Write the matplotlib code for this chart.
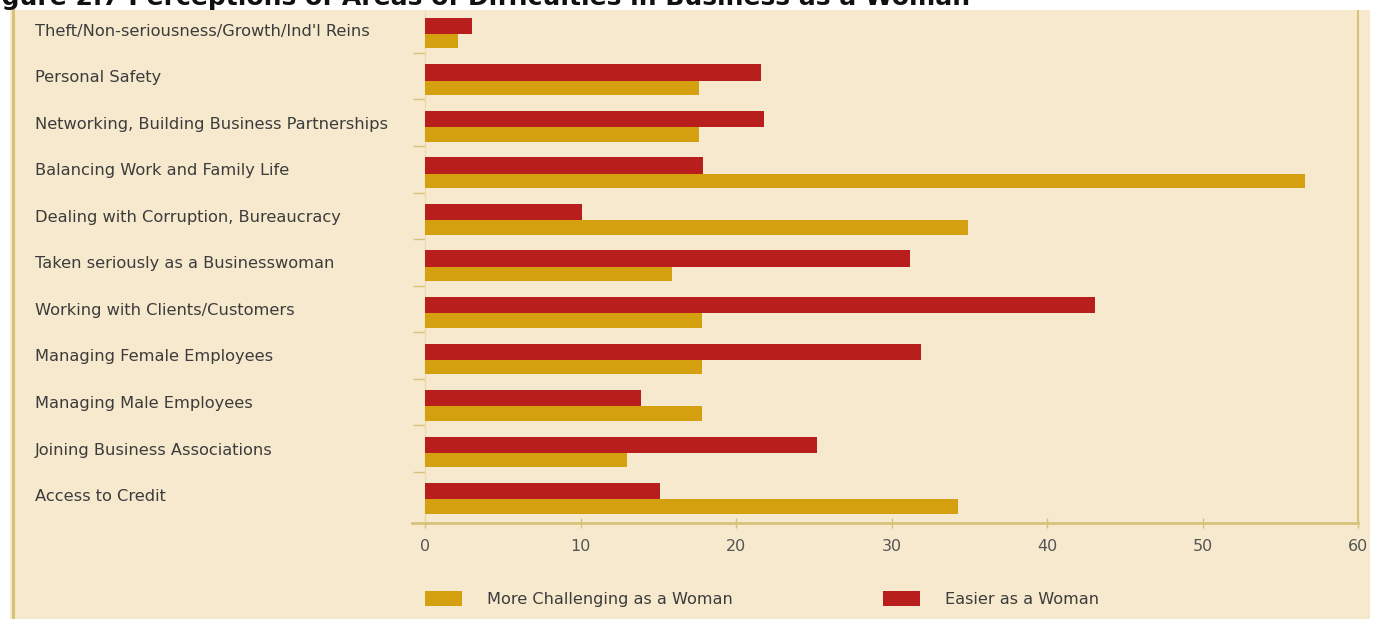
import matplotlib.pyplot as plt
from matplotlib.patches import Rectangle, Patch
from matplotlib.lines import Line2D

# data (percent)
categories = [
    "Theft/Non-seriousness/Growth/Ind'l Reins",
    "Personal Safety",
    "Networking, Building Business Partnerships",
    "Balancing Work and Family Life",
    "Dealing with Corruption, Bureaucracy",
    "Taken seriously as a Businesswoman",
    "Working with Clients/Customers",
    "Managing Female Employees",
    "Managing Male Employees",
    "Joining Business Associations",
    "Access to Credit",
]
easier = [3, 21.6, 21.8, 17.9, 10.1, 31.2, 43.1, 31.9, 13.9, 25.2, 15.1]
more_challenging = [2.1, 17.6, 17.6, 56.6, 34.9, 15.9, 17.8, 17.8, 17.8, 13.0, 34.3]
xticks = [0, 10, 20, 30, 40, 50, 60]

W, H = 1381, 619
beige = '#f7e9cd'
gold = '#d4a010'
red = '#b81e1c'
tan = '#d8c27a'
txt = '#3c3c3c'

fig = plt.figure(figsize=(W / 100, H / 100), dpi=100, facecolor='white')

# beige panel + left border line
fig.patches.append(Rectangle((10 / W, 0), 1360 / W, 1 - 10 / H, transform=fig.transFigure,
                             facecolor=beige, edgecolor='none', zorder=-2))
fig.lines.append(Line2D([12.5 / W, 12.5 / W], [0, 1 - 10 / H], transform=fig.transFigure,
                        color=tan, lw=2.2, zorder=-1))

# cut-off title at the very top
fig.text(-24 / W, 1 - 5 / H, "Figure 2.7 Perceptions of Areas of Difficulties in Business as a Woman",
         fontsize=18, fontweight='bold', color='#111111', va='baseline', ha='left')

ax = fig.add_axes([425 / W, 1 - 523 / H, (1358 - 425) / W, (523 - 11) / H])
ax.set_zorder(5)
ax.set_facecolor('none')

y = list(range(len(categories)))
ax.barh([i - 0.18 for i in y], easier, height=0.35, color=red, zorder=3)
ax.barh([i + 0.15 for i in y], more_challenging, height=0.31, color=gold, zorder=3)

ax.set_xlim(0, 60)
ax.set_ylim(len(categories) - 0.5, -0.5)

ax.spines['top'].set_visible(False)
ax.spines['left'].set_color('#eadbb0')
ax.spines['left'].set_linewidth(1)
ax.spines['right'].set_color(tan)
ax.spines['right'].set_linewidth(1.5)
ax.spines['bottom'].set_color(tan)
ax.spines['bottom'].set_linewidth(2)
# bottom axis line sticks out to the left a little
ax.plot([-13 / 933, 0], [0, 0], transform=ax.transAxes, color=tan, lw=2, clip_on=False)

ax.set_xticks(xticks)
ax.set_xticklabels([str(t) for t in xticks], fontsize=11.5, color='#555555')
ax.tick_params(axis='x', direction='inout', length=7, width=1, color=tan, pad=8)

ax.set_yticks([i - 0.1 for i in y])
ax.set_yticklabels(categories, fontsize=11.7, color=txt, ha='left')
ax.tick_params(axis='y', length=0, pad=(425 - 35) * 0.72)
ax.set_yticks([i + 0.4 for i in y[:-1]], minor=True)
ax.tick_params(axis='y', which='minor', length=9, width=1, color=tan, direction='out')

handles = [Patch(facecolor=gold, edgecolor='none', label='More Challenging as a Woman'),
           Patch(facecolor=red, edgecolor='none', label='Easier as a Woman')]
fig.legend(handles=handles, loc='center left', bbox_to_anchor=(425 / W, 1 - 599 / H),
           ncol=2, frameon=False, fontsize=11.6, labelcolor=txt, borderpad=0, borderaxespad=0,
           handlelength=2.3, handleheight=1.0, handletextpad=1.55, columnspacing=9.3)

fig.savefig('out.png', dpi=100, facecolor='white')
